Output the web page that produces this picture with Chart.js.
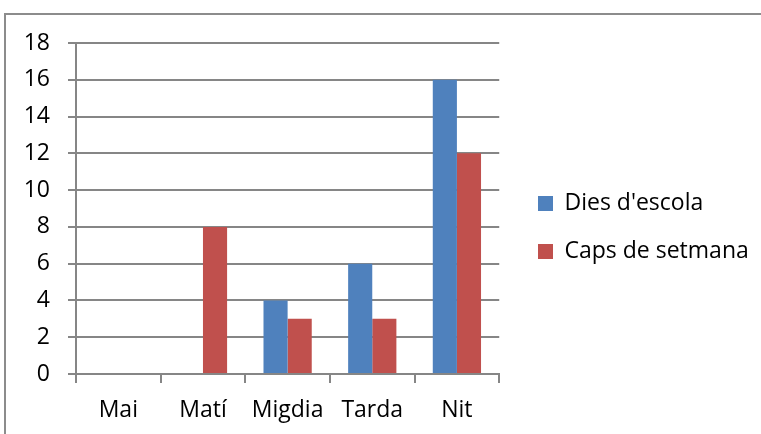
<!DOCTYPE html>
<html>
<head>
<meta charset="utf-8">
<script src="https://cdn.jsdelivr.net/npm/chart.js@4"></script>
<style>
  html, body { margin: 0; padding: 0; background: #fff; overflow: hidden; }
  .wrap { position: relative; width: 761px; height: 434px; }
  .frame { position: absolute; left: 4px; top: 13px; width: 800px; height: 500px; border: 2px solid #8c8c8c; box-sizing: border-box; }
  canvas { position: absolute; left: 0; top: 0; }
</style>
</head>
<body>
<div class="wrap">
  <div class="frame"></div>
  <canvas id="chart" width="761" height="434"></canvas>
</div>
<script>
  const categories = ['Mai', 'Matí', 'Migdia', 'Tarda', 'Nit'];
  const schoolDays = [0, 0, 4, 6, 16];
  const weekends   = [0, 8, 3, 3, 12];
  const yMin = 0, yMax = 18, yStep = 2;

  const axisColor = '#868686';
  const fontFamily = "'Open Sans', sans-serif";
  const fontSize = 23;

  // moves the right-hand legend to where the original sits
  const legendPlace = {
    id: 'legendPlace',
    afterLayout(chart) {
      const lg = chart.legend;
      const pad = lg.options.labels.padding;
      const dx = 538 - (lg.left + pad);
      const dy = 192 - (lg.top + pad);
      lg.left += dx; lg.right += dx;
      lg.top += dy; lg.bottom += dy;
    }
  };

  new Chart(document.getElementById('chart'), {
    type: 'bar',
    data: {
      labels: categories,
      datasets: [
        {
          label: "Dies d'escola",
          data: schoolDays,
          backgroundColor: '#4F81BD',
          categoryPercentage: 0.57,
          barPercentage: 1.0
        },
        {
          label: 'Caps de setmana',
          data: weekends,
          backgroundColor: '#C0504D',
          categoryPercentage: 0.57,
          barPercentage: 1.0
        }
      ]
    },
    options: {
      responsive: false,
      animation: false,
      layout: { padding: { top: 43, right: 16, bottom: 0, left: 0 } },
      plugins: {
        legend: {
          position: 'right',
          align: 'start',
          maxWidth: 320,
          labels: {
            boxWidth: 15,
            boxHeight: 15,
            padding: 25,
            color: '#000',
            font: { family: fontFamily, size: fontSize }
          }
        },
        tooltip: { enabled: false }
      },
      scales: {
        x: {
          offset: true,
          grid: { offset: true, drawOnChartArea: false, tickLength: 9, color: axisColor, lineWidth: 2 },
          border: { color: axisColor, width: 2 },
          ticks: { color: '#000', padding: 14, font: { family: fontFamily, size: fontSize } },
          afterFit: (s) => { s.height = 60; s.paddingLeft = 0; s.paddingRight = 0; }
        },
        y: {
          min: yMin,
          max: yMax,
          grid: { color: axisColor, lineWidth: 2, tickLength: 8 },
          border: { color: axisColor, width: 2 },
          ticks: { stepSize: yStep, color: '#000', padding: 18, font: { family: fontFamily, size: fontSize } },
          afterFit: (s) => { s.width = 76; s.paddingTop = 0; s.paddingBottom = 0; }
        }
      }
    },
    plugins: [legendPlace]
  });
</script>
</body>
</html>
